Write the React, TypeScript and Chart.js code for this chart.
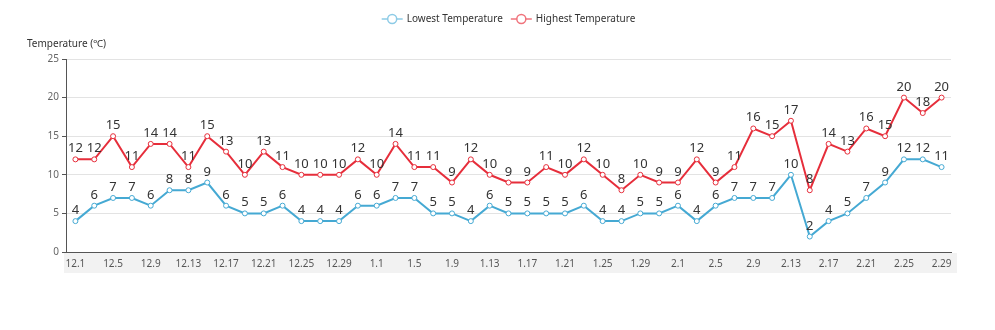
import React, { useEffect, useRef } from 'react';
import { Chart, registerables } from 'chart.js';

Chart.register(...registerables);

const FONT = '"Noto Sans", "Open Sans", sans-serif';

const categories = [
  '12.1', '12.3', '12.5', '12.7', '12.9', '12.11', '12.13', '12.15', '12.17', '12.19', '12.21', '12.23', '12.25', '12.27', '12.29', '12.31',
  '1.1', '1.3', '1.5', '1.7', '1.9', '1.11', '1.13', '1.15', '1.17', '1.19', '1.21', '1.23', '1.25', '1.27', '1.29', '1.31',
  '2.1', '2.3', '2.5', '2.7', '2.9', '2.11', '2.13', '2.15', '2.17', '2.19', '2.21', '2.23', '2.25', '2.27', '2.29',
];

const lowTemps = [
  4, 6, 7, 7, 6, 8, 8, 9, 6, 5, 5, 6, 4, 4, 4, 6,
  6, 7, 7, 5, 5, 4, 6, 5, 5, 5, 5, 6, 4, 4, 5, 5,
  6, 4, 6, 7, 7, 7, 10, 2, 4, 5, 7, 9, 12, 12, 11,
];

const highTemps = [
  12, 12, 15, 11, 14, 14, 11, 15, 13, 10, 13, 11, 10, 10, 10, 12,
  10, 14, 11, 11, 9, 12, 10, 9, 9, 11, 10, 12, 10, 8, 10, 9,
  9, 12, 9, 11, 16, 15, 17, 8, 14, 13, 16, 15, 20, 18, 20,
];

const seriesNames = ['Lowest Temperature', 'Highest Temperature'];
const yAxisTitle = 'Temperature (℃)';
const yMin = 0;
const yMax = 25;
const yStep = 5;

const LOW_COLOR = '#45a9d3';
const HIGH_COLOR = '#e62e3b';
const LOW_LEGEND = '#8dcbe6';
const HIGH_LEGEND = '#f0737c';

const decorPlugin = {
  id: 'decor',
  beforeDraw(chart: any) {
    const { ctx, chartArea: a } = chart;
    ctx.save();
    ctx.fillStyle = '#f2f2f2';
    ctx.fillRect(a.left - 2, a.bottom + 1, a.right - a.left + 8, 20);
    ctx.restore();
  },
  afterDatasetsDraw(chart: any) {
    const { ctx } = chart;
    ctx.save();
    ctx.font = `13px ${FONT}`;
    ctx.fillStyle = '#333';
    ctx.textAlign = 'center';
    ctx.textBaseline = 'alphabetic';
    chart.data.datasets.forEach((ds: any, di: number) => {
      const meta = chart.getDatasetMeta(di);
      meta.data.forEach((pt: any, i: number) => {
        ctx.fillText(String(ds.data[i]), pt.x, pt.y - 7);
      });
    });
    ctx.restore();
  },
  afterDraw(chart: any) {
    const { ctx, chartArea: a } = chart;
    ctx.save();
    // axis title
    ctx.font = `10px ${FONT}`;
    ctx.fillStyle = '#333';
    ctx.textAlign = 'left';
    ctx.textBaseline = 'middle';
    ctx.fillText(yAxisTitle, a.left - 39, a.top - 15);

    // legend
    const items = [
      { label: seriesNames[0], color: LOW_LEGEND },
      { label: seriesNames[1], color: HIGH_LEGEND },
    ];
    const symW = 21;
    const gap = 4;
    const itemGap = 8;
    const widths = items.map((it) => symW + gap + ctx.measureText(it.label).width);
    const total = widths.reduce((s, w) => s + w, 0) + itemGap * (items.length - 1);
    let x = (a.left + a.right) / 2 - total / 2;
    const y = 19;
    items.forEach((it, i) => {
      ctx.strokeStyle = it.color;
      ctx.lineWidth = 1.5;
      ctx.beginPath();
      ctx.moveTo(x, y);
      ctx.lineTo(x + symW, y);
      ctx.stroke();
      ctx.beginPath();
      ctx.arc(x + symW / 2, y, 4.5, 0, Math.PI * 2);
      ctx.fillStyle = '#fff';
      ctx.fill();
      ctx.stroke();
      ctx.fillStyle = '#333';
      ctx.fillText(it.label, x + symW + gap, y);
      x += widths[i] + itemGap;
    });
    ctx.restore();
  },
};

export default function App() {
  const ref = useRef<HTMLCanvasElement>(null);

  useEffect(() => {
    document.body.style.margin = '0';
    if (!ref.current) return;
    const chart = new Chart(ref.current, {
      type: 'line',
      data: {
        labels: categories,
        datasets: [
          {
            label: seriesNames[0],
            data: lowTemps,
            borderColor: LOW_COLOR,
            backgroundColor: '#fff',
            borderWidth: 2,
            pointRadius: 2.5,
            pointBorderWidth: 1,
            pointBackgroundColor: '#fff',
            pointBorderColor: LOW_COLOR,
            tension: 0,
          },
          {
            label: seriesNames[1],
            data: highTemps,
            borderColor: HIGH_COLOR,
            backgroundColor: '#fff',
            borderWidth: 2,
            pointRadius: 2.5,
            pointBorderWidth: 1,
            pointBackgroundColor: '#fff',
            pointBorderColor: HIGH_COLOR,
            tension: 0,
          },
        ],
      },
      options: {
        responsive: false,
        animation: false,
        layout: { padding: { top: 59, right: 44, left: 0, bottom: 0 } },
        plugins: {
          legend: { display: false },
          tooltip: { enabled: false },
        },
        scales: {
          x: {
            offset: true,
            grid: { display: false, drawTicks: false },
            border: { display: true, color: '#555', width: 1 },
            ticks: {
              autoSkip: false,
              maxRotation: 0,
              padding: 6,
              color: '#555',
              font: { family: FONT, size: 10 },
              callback: (_v: any, i: number) => (i % 2 === 0 ? categories[i] : ''),
            },
            afterFit: (s: any) => {
              s.height = 78;
            },
          },
          y: {
            min: yMin,
            max: yMax,
            grid: { color: '#e3e3e3', tickColor: '#555', tickLength: 4, lineWidth: 1 },
            border: { display: true, color: '#555', width: 1 },
            ticks: {
              stepSize: yStep,
              padding: 3,
              color: '#666',
              font: { family: FONT, size: 10 },
            },
            afterFit: (s: any) => {
              s.width = 66;
            },
          },
        },
      },
      plugins: [decorPlugin],
    });
    return () => chart.destroy();
  }, []);

  return (
    <div style={{ width: 995, height: 330 }}>
      <canvas ref={ref} width={995} height={330} />
    </div>
  );
}
